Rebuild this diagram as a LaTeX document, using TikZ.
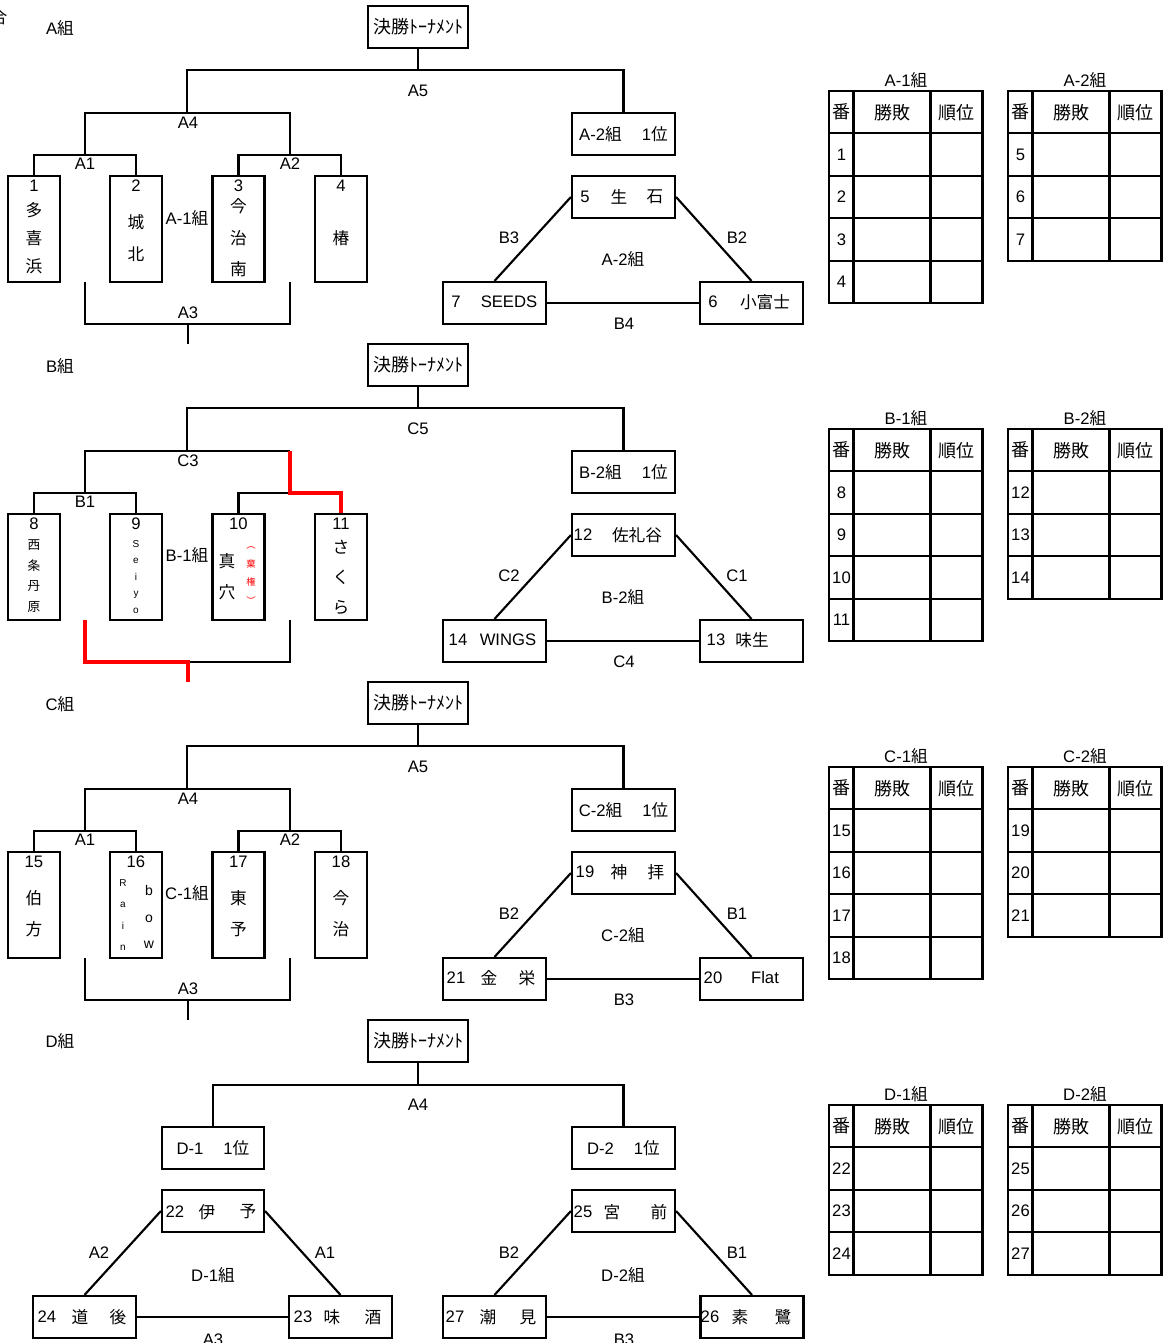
\documentclass[tikz,border=0pt]{standalone}
\usepackage{fontspec}
\setmainfont{Liberation Sans}
\newfontfamily\jp{Noto Sans CJK JP}
\newcommand\J[1]{{\jp #1}}
\newcommand\restab[6]{%
  \draw[tl] (#1,#2) rectangle (#1+153.5,#2+42.4+42.4*#5);
  \draw[tl] (#1+24.5,#2) -- (#1+24.5,#2+42.4+42.4*#5);
  \draw[tl] (#1+101.5,#2) -- (#1+101.5,#2+42.4+42.4*#5);
  \foreach \r in {1,...,#5}{\draw[tl] (#1,#2+42.4*\r) -- (#1+153.5,#2+42.4*\r);}
  \node[t] (#6t) at (#1+77,#2-11) {#3};
  \node[hd] (#6h1) at (#1+12.25,#2+21.2) {番};
  \node[hd] (#6h2) at (#1+63,#2+21.2) {勝敗};
  \node[hd] (#6h3) at (#1+127.5,#2+21.2) {順位};
  \foreach \n [count=\i] in {#4}{\node[t] (#6n\i) at (#1+12.5,#2+21.2+42.4*\i) {\n};}
}
\begin{document}
\begin{tikzpicture}[x=0.75pt,y=-0.75pt,
  ln/.style={line width=1.6pt},
  tl/.style={line width=1.6pt},
  rd/.style={line width=2.6pt, draw=red},
  bxs/.style 2 args={draw, line width=1.6pt, inner sep=0pt, minimum width=#1*0.75pt, minimum height=#2*0.75pt},
  t/.style={inner sep=0pt, font=\fontsize{12.5}{14}\selectfont},
  ft/.style={font=\jp\fontsize{13.5}{15}\selectfont},
  vt/.style 2 args={inner sep=0pt, align=center, font=\jp\fontsize{#1}{#2}\selectfont},
  lt/.style 2 args={inner sep=0pt, align=center, font=\fontsize{#1}{#2}\selectfont},
  hd/.style={inner sep=0pt, font=\jp\fontsize{13.5}{15}\selectfont},
]
\useasboundingbox (0,0) rectangle (1164,1343);
\node[t] (corner) at (-1,17) {\J{合}};

%================ Section A
\node[t] (aTitle) at (60,28) {A\J{組}};
\node[bxs={100}{42}, ft] (aF) at (418,27) {決勝ﾄｰﾅﾒﾝﾄ};
\coordinate (aJ5) at (418,70);
\coordinate (aJ4) at (187,113);
\coordinate (aJ1) at (85,155);
\coordinate (aJ2) at (290,155);
\node[bxs={103}{42}, t] (aW) at (623.5,134) {A-2\J{組}\hspace{1.2em}1\J{位}};
\node[bxs={52}{106}] (a1) at (34,229) {};
\node[bxs={52}{106}] (a2) at (136,229) {};
\node[bxs={52}{106}] (a3) at (238.5,229) {};
\node[bxs={52}{106}] (a4) at (341,229) {};
\draw[ln] (aF.south) -- (aJ5);
\draw[ln] (aJ4) |- (aJ5) -| (aW.north);
\draw[ln] (aJ1) |- (aJ4) -| (aJ2);
\draw[ln] (a1.north) |- (aJ1) -| (a2.north);
\draw[ln] (a3.north) |- (aJ2) -| (a4.north);
\coordinate (aB1) at (85,282); \coordinate (aB2) at (290,282);
\coordinate (aB3) at (188,324); \coordinate (aB4) at (188,344);
\draw[ln] (aB1) |- (aB3) -| (aB2);
\draw[ln] (aB3) -- (aB4);
\node[t] (aL5) at (418,91) {A5};
\node[t] (aL4) at (188,123) {A4};
\node[t] (aL1) at (85,164) {A1};
\node[t] (aL2) at (290,164) {A2};
\node[t] (aL3) at (188,313) {A3};
\node[t] (aG1) at (187,218) {A-1\J{組}};
\node[t] (a1n) at (34,186) {1};
\node[t] (a2n) at (136,186) {2};
\node[t] (a3n) at (238.5,186) {3};
\node[t] (a4n) at (341,186) {4};
\node[vt={12.5}{21}] (a1s) at (34,238) {多\\喜\\浜};
\node[vt={12.5}{24}] (a2s) at (136,238) {城\\北};
\node[vt={12.5}{23.6}] (a3s) at (238.5,238) {今\\治\\南};
\node[vt={12.5}{24}] (a4s) at (341,238) {椿};
\node[bxs={103}{42}] (a5) at (623.5,197) {};
\node[bxs={103}{42}] (a7) at (494.5,303) {};
\node[bxs={103}{42}] (a6) at (751.5,303) {};
\draw[ln] (a5.west) -- (a7.north);
\draw[ln] (a5.east) -- (a6.north);
\draw[ln] (a7.east) -- (a6.west);
\node[t] (a5a) at (585,197) {5};
\node[t] (a5b) at (619,197) {\J{生}};
\node[t] (a5c) at (655,197) {\J{石}};
\node[t] (a7a) at (456,302) {7};
\node[t] (a7b) at (509,302) {SEEDS};
\node[t] (a6a) at (713,302) {6};
\node[t] (a6b) at (765,302) {\J{小富士}};
\node[t] (aM3) at (509,238) {B3};
\node[t] (aM2) at (737,238) {B2};
\node[t] (aG2) at (623,259) {A-2\J{組}};
\node[t] (aM4) at (624,324) {B4};
\restab{829}{91}{A-1\J{組}}{1,2,3,4}{4}{aT1}
\restab{1008}{91}{A-2\J{組}}{5,6,7}{3}{aT2}

%================ Section B
\begin{scope}[shift={(0,338)}]
\node[t] (bTitle) at (60,28) {B\J{組}};
\node[bxs={100}{42}, ft] (bF) at (418,27) {決勝ﾄｰﾅﾒﾝﾄ};
\coordinate (bJ5) at (418,70);
\coordinate (bJ4) at (187,113);
\coordinate (bJ4r) at (290,113);
\coordinate (bJ1) at (85,155);
\coordinate (bJ2) at (290,155);
\node[bxs={103}{42}, t] (bW) at (623.5,134) {B-2\J{組}\hspace{1.2em}1\J{位}};
\node[bxs={52}{106}] (b8) at (34,229) {};
\node[bxs={52}{106}] (b9) at (136,229) {};
\node[bxs={52}{106}] (b10) at (238.5,229) {};
\node[bxs={52}{106}] (b11) at (341,229) {};
\draw[ln] (bF.south) -- (bJ5);
\draw[ln] (bJ4) |- (bJ5) -| (bW.north);
\draw[ln] (bJ1) |- (bJ4) -- (bJ4r);
\draw[ln] (b8.north) |- (bJ1) -| (b9.north);
\draw[ln] (b10.north) |- (bJ2);
\draw[rd] (bJ4r) -- (bJ2) -| (b11.north);
\coordinate (bB1) at (85,282); \coordinate (bB2) at (290,282);
\coordinate (bB3) at (188,324); \coordinate (bB4) at (188,344);
\draw[ln] (bB3) -| (bB2);
\draw[rd] (bB1) |- (bB3) -- (bB4);
\node[t] (bL5) at (418,91) {C5};
\node[t] (bL4) at (188,123) {C3};
\node[t] (bL1) at (85,164) {B1};
\node[t] (bG1) at (187,217) {B-1\J{組}};
\node[t] (b8n) at (34,186) {8};
\node[t] (b9n) at (136,186) {9};
\node[t] (b10n) at (238.5,186) {10};
\node[t] (b11n) at (341,186) {11};
\node[vt={9.5}{15.5}] (b8s) at (34,238) {西\\条\\丹\\原};
\node[lt={7.5}{12.4}] (b9s) at (136,239) {S\\e\\i\\y\\o};
\node[vt={12.5}{23}] (b10s) at (227,238.5) {真\\穴};
\node[vt={7}{14}, text=red] (b10r) at (251,237.5) {︵\\棄\\権\\︶};
\node[vt={12.5}{22.5}] (b11s) at (341,239) {さ\\く\\ら};
\node[bxs={103}{42}] (b12) at (623.5,197) {};
\node[bxs={103}{42}] (b14) at (494.5,303) {};
\node[bxs={103}{42}] (b13) at (751.5,303) {};
\draw[ln] (b12.west) -- (b14.north);
\draw[ln] (b12.east) -- (b13.north);
\draw[ln] (b14.east) -- (b13.west);
\node[t] (b12a) at (583,197) {12};
\node[t] (b12b) at (637,197) {\J{佐礼谷}};
\node[t] (b14a) at (458,302) {14};
\node[t] (b14b) at (508,302) {WINGS};
\node[t] (b13a) at (716,302) {13};
\node[t] (b13b) at (752,302) {\J{味生}};
\node[t] (bM2) at (509,238) {C2};
\node[t] (bM1) at (737,238) {C1};
\node[t] (bG2) at (623,259) {B-2\J{組}};
\node[t] (bM4) at (624,324) {C4};
\restab{829}{91}{B-1\J{組}}{8,9,10,11}{4}{bT1}
\restab{1008}{91}{B-2\J{組}}{12,13,14}{3}{bT2}
\end{scope}

%================ Section C
\begin{scope}[shift={(0,676)}]
\node[t] (cTitle) at (60,28) {C\J{組}};
\node[bxs={100}{42}, ft] (cF) at (418,27) {決勝ﾄｰﾅﾒﾝﾄ};
\coordinate (cJ5) at (418,70);
\coordinate (cJ4) at (187,113);
\coordinate (cJ1) at (85,155);
\coordinate (cJ2) at (290,155);
\node[bxs={103}{42}, t] (cW) at (623.5,134) {C-2\J{組}\hspace{1.2em}1\J{位}};
\node[bxs={52}{106}] (c15) at (34,229) {};
\node[bxs={52}{106}] (c16) at (136,229) {};
\node[bxs={52}{106}] (c17) at (238.5,229) {};
\node[bxs={52}{106}] (c18) at (341,229) {};
\draw[ln] (cF.south) -- (cJ5);
\draw[ln] (cJ4) |- (cJ5) -| (cW.north);
\draw[ln] (cJ1) |- (cJ4) -| (cJ2);
\draw[ln] (c15.north) |- (cJ1) -| (c16.north);
\draw[ln] (c17.north) |- (cJ2) -| (c18.north);
\coordinate (cB1) at (85,282); \coordinate (cB2) at (290,282);
\coordinate (cB3) at (188,324); \coordinate (cB4) at (188,344);
\draw[ln] (cB1) |- (cB3) -| (cB2);
\draw[ln] (cB3) -- (cB4);
\node[t] (cL5) at (418,91) {A5};
\node[t] (cL4) at (188,123) {A4};
\node[t] (cL1) at (85,164) {A1};
\node[t] (cL2) at (290,164) {A2};
\node[t] (cL3) at (188,313) {A3};
\node[t] (cG1) at (187,217) {C-1\J{組}};
\node[t] (c15n) at (34,186) {15};
\node[t] (c16n) at (136,186) {16};
\node[t] (c17n) at (238.5,186) {17};
\node[t] (c18n) at (341,186) {18};
\node[vt={12.5}{23.5}] (c15s) at (34,237.5) {伯\\方};
\node[lt={7.5}{16}] (c16r) at (123,239) {R\\a\\i\\n};
\node[lt={10.5}{20}] (c16b) at (149,241) {b\\o\\w};
\node[vt={12.5}{23.5}] (c17s) at (238.5,237.5) {東\\予};
\node[vt={12.5}{23.5}] (c18s) at (341,237.5) {今\\治};
\node[bxs={103}{42}] (c19) at (623.5,197) {};
\node[bxs={103}{42}] (c21) at (494.5,303) {};
\node[bxs={103}{42}] (c20) at (751.5,303) {};
\draw[ln] (c19.west) -- (c21.north);
\draw[ln] (c19.east) -- (c20.north);
\draw[ln] (c21.east) -- (c20.west);
\node[t] (c19a) at (585,196) {19};
\node[t] (c19b) at (619,196) {\J{神}};
\node[t] (c19c) at (656,196) {\J{拝}};
\node[t] (c21a) at (456,302) {21};
\node[t] (c21b) at (489,302) {\J{金}};
\node[t] (c21c) at (527,302) {\J{栄}};
\node[t] (c20a) at (713,302) {20};
\node[t] (c20b) at (765,302) {Flat};
\node[t] (cM2) at (509,238) {B2};
\node[t] (cM1) at (737,238) {B1};
\node[t] (cG2) at (623,259) {C-2\J{組}};
\node[t] (cM3) at (624,324) {B3};
\restab{829}{91}{C-1\J{組}}{15,16,17,18}{4}{cT1}
\restab{1008}{91}{C-2\J{組}}{19,20,21}{3}{cT2}
\end{scope}

%================ Section D
\begin{scope}[shift={(0,1014)}]
\node[t] (dTitle) at (60,27) {D\J{組}};
\node[bxs={100}{42}, ft] (dF) at (418,27) {決勝ﾄｰﾅﾒﾝﾄ};
\coordinate (dJ) at (418,71);
\node[bxs={102}{42}, t] (dL) at (213,134) {D-1\hspace{1.2em}1\J{位}};
\node[bxs={103}{42}, t] (dR) at (623.5,134) {D-2\hspace{1.2em}1\J{位}};
\draw[ln] (dF.south) -- (dJ);
\draw[ln] (dL.north) |- (dJ) -| (dR.north);
\node[t] (dL4) at (418,91) {A4};
\node[bxs={102}{42}] (d22) at (213,197) {};
\node[bxs={103}{42}] (d24) at (84.5,303) {};
\node[bxs={103}{42}] (d23) at (340.5,303) {};
\draw[ln] (d22.west) -- (d24.north);
\draw[ln] (d22.east) -- (d23.north);
\draw[ln] (d24.east) -- (d23.west);
\node[t] (d22a) at (175,198) {22};
\node[t] (d22b) at (207,198) {\J{伊}};
\node[t] (d22c) at (248,198) {\J{予}};
\node[t] (d24a) at (47,303) {24};
\node[t] (d24b) at (80,303) {\J{道}};
\node[t] (d24c) at (118,303) {\J{後}};
\node[t] (d23a) at (303,303) {23};
\node[t] (d23b) at (332,303) {\J{味}};
\node[t] (d23c) at (373,303) {\J{酒}};
\node[t] (dM2) at (99,239) {A2};
\node[t] (dM1) at (325,239) {A1};
\node[t] (dG1) at (213,261) {D-1\J{組}};
\node[t] (dM3) at (213,326) {A3};
\node[bxs={103}{42}] (d25) at (623.5,197) {};
\node[bxs={103}{42}] (d27) at (494.5,303) {};
\node[bxs={103}{42}] (d26) at (752,303) {};
\draw[ln] (d25.west) -- (d27.north);
\draw[ln] (d25.east) -- (d26.north);
\draw[ln] (d27.east) -- (d26.west);
\node[t] (d25a) at (583,198) {25};
\node[t] (d25b) at (612,198) {\J{宮}};
\node[t] (d25c) at (659,198) {\J{前}};
\node[t] (d27a) at (455,303) {27};
\node[t] (d27b) at (488,303) {\J{潮}};
\node[t] (d27c) at (528,303) {\J{見}};
\node[t] (d26a) at (710,303) {26};
\node[t] (d26b) at (740,303) {\J{素}};
\node[t] (d26c) at (783,303) {\J{鷺}};
\node[t] (dN2) at (509,239) {B2};
\node[t] (dN1) at (737,239) {B1};
\node[t] (dG2) at (623,261) {D-2\J{組}};
\node[t] (dN3) at (624,326) {B3};
\restab{829}{91}{D-1\J{組}}{22,23,24}{3}{dT1}
\restab{1008}{91}{D-2\J{組}}{25,26,27}{3}{dT2}
\end{scope}
\end{tikzpicture}
\end{document}
